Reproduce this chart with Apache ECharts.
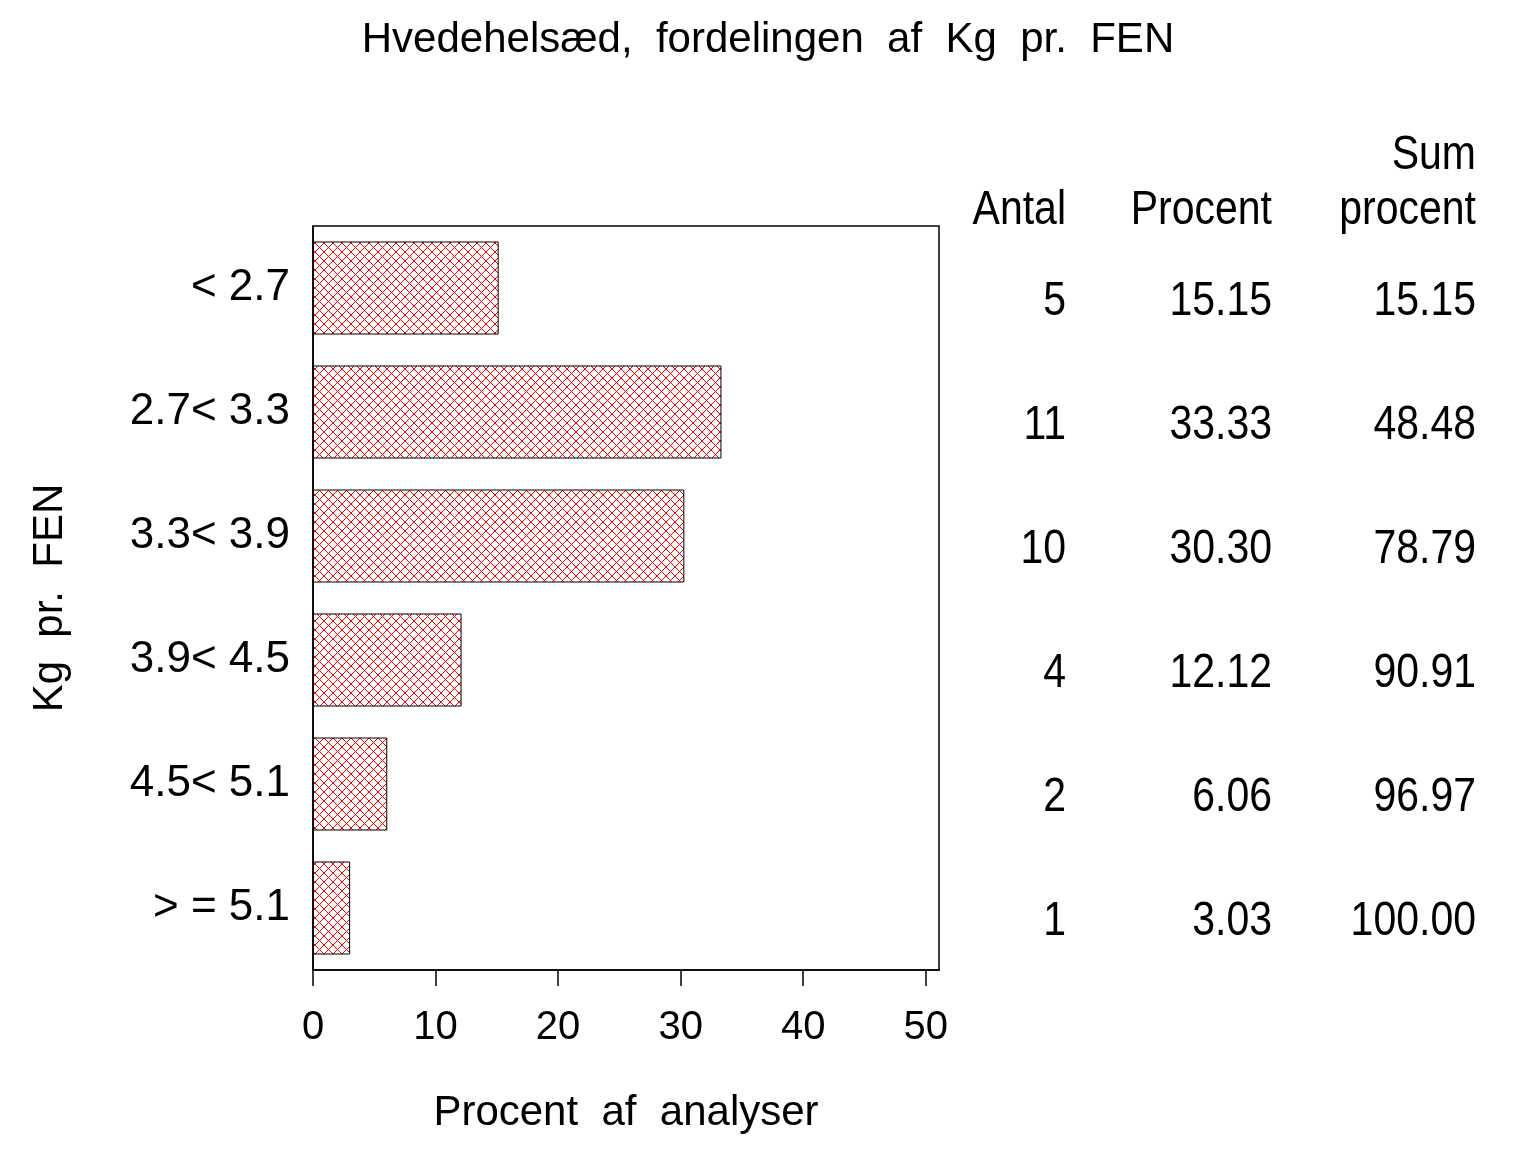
<!DOCTYPE html>
<html><head><meta charset="utf-8">
<script src="https://cdn.jsdelivr.net/npm/echarts@6/dist/echarts.min.js"></script>
<style>html,body{margin:0;padding:0;background:#fff}#c{width:1536px;height:1152px}</style>
</head><body><div id="c"></div>
<script>
var titleText = 'Hvedehelsæd,  fordelingen  af  Kg  pr.  FEN';
var categories = ['< 2.7', '2.7< 3.3', '3.3< 3.9', '3.9< 4.5', '4.5< 5.1', '> = 5.1'];
var percent = [15.15, 33.33, 30.30, 12.12, 6.06, 3.03];
var antal = ['5', '11', '10', '4', '2', '1'];
var procentLabels = ['15.15', '33.33', '30.30', '12.12', '6.06', '3.03'];
var sumProcent = ['15.15', '48.48', '78.79', '90.91', '96.97', '100.00'];
var xTicks = [0, 10, 20, 30, 40, 50];

var FONT = '"Liberation Sans", Arial, sans-serif';

var pc = document.createElement('canvas');
pc.width = 9; pc.height = 9;
var g = pc.getContext('2d');
g.fillStyle = '#fff'; g.fillRect(0, 0, 9, 9);
g.strokeStyle = '#ff0000'; g.lineWidth = 1;
g.beginPath(); g.moveTo(0, 0); g.lineTo(9, 9); g.moveTo(0, 9); g.lineTo(9, 0); g.stroke();

var chart = echarts.init(document.getElementById('c'));
chart.setOption({
  animation: false,
  backgroundColor: '#fff',
  title: {
    text: titleText, left: 'center', top: 14,
    textStyle: {fontFamily: FONT, fontSize: 42, fontWeight: 'normal', color: '#000'}
  },
  grid: {left: 313, right: 597, top: 226, bottom: 182, show: true, borderColor: '#000', borderWidth: 1.5, containLabel: false},
  xAxis: {
    type: 'value', min: 0, max: 51.08,
    splitLine: {show: false},
    axisLine: {show: true, lineStyle: {color: '#000', width: 1.5}},
    axisTick: {show: true, length: 16, customValues: xTicks, lineStyle: {color: '#000', width: 1.5}},
    axisLabel: {customValues: xTicks, margin: 38, fontFamily: FONT, fontSize: 40, color: '#000'},
    name: 'Procent  af  analyser', nameLocation: 'middle', nameGap: 122,
    nameTextStyle: {fontFamily: FONT, fontSize: 42, color: '#000'}
  },
  yAxis: {
    type: 'category', data: categories, inverse: true,
    axisLine: {show: true, lineStyle: {color: '#000', width: 1.5}},
    axisTick: {show: false},
    axisLabel: {margin: 23, fontFamily: FONT, fontSize: 44, color: '#000'},
    name: 'Kg  pr.  FEN', nameLocation: 'middle', nameGap: 242, nameRotate: 90,
    nameTextStyle: {fontFamily: FONT, fontSize: 42, color: '#000'}
  },
  series: [{
    type: 'bar', data: percent, barWidth: 93,
    itemStyle: {color: {image: pc, repeat: 'repeat'}, borderColor: '#000', borderWidth: 1}
  }]
});

var cols = [
  {x: 1066, head: [['Antal', 211]], vals: antal},
  {x: 1272, head: [['Procent', 211]], vals: procentLabels},
  {x: 1476, head: [['Sum', 156], ['procent', 211]], vals: sumProcent}
];
var els = [];
function txt(s, x, y) {
  return {type: 'text', x: x, y: y, scaleY: 1.15,
    style: {text: s, x: 0, y: 0, align: 'right', verticalAlign: 'middle', font: '41px ' + FONT, fill: '#000'}};
}
cols.forEach(function (c) {
  c.head.forEach(function (h) { els.push(txt(h[0], c.x, h[1])); });
  c.vals.forEach(function (v, i) {
    var y = chart.convertToPixel({yAxisIndex: 0}, i) + 14;
    els.push(txt(v, c.x, y));
  });
});
chart.setOption({graphic: els});
</script></body></html>
